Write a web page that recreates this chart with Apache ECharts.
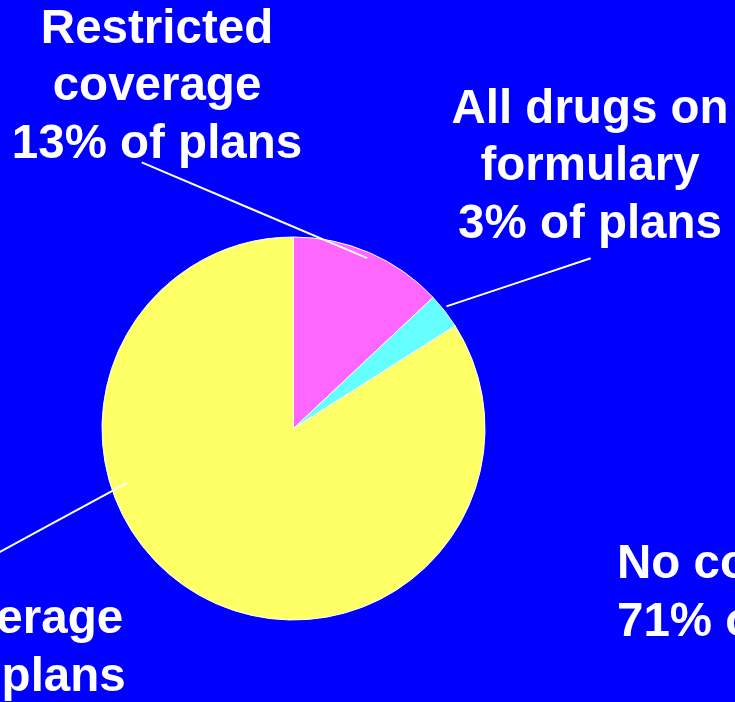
<!DOCTYPE html>
<html><head><meta charset="utf-8">
<script src="https://cdn.jsdelivr.net/npm/echarts@6/dist/echarts.min.js"></script>
<style>html,body{margin:0;padding:0;background:#0000FF;overflow:hidden}#c{width:735px;height:702px;}</style>
</head><body><div id="c"></div>
<script>
// ---- data ----
const categories = ['Restricted coverage', 'All drugs on formulary', 'No coverage'];
const labelNames = ['Restricted\ncoverage', 'All drugs on\nformulary', 'No coverage'];
const shares = [13, 3, 84];
const sliceColors = ['#FF66FF', '#66FFFF', '#FFFF66'];
const offChartLabel = ['No coverage', '71% of plans'];

// ---- layout ----
const CX = 293.5, CY = 428.5, R = 191.5;
const FONT = 'Liberation Sans, Arial, Helvetica, sans-serif';
const labelCenters = [[157, 87], [590, 167], [-19.5, 649]];
const leaderStart = [[23.4, 185.6], [51.4, 195.7], [251.9, 175]];
const leaderEnd = [[141.7, 162.3], [590.7, 258.3], [-40, 573.6]];

function polar(a, d) {
  const r = a * Math.PI / 180;
  return [CX + d * Math.sin(r), CY - d * Math.cos(r)];
}

const baseData = categories.map((c, i) => ({name: c, value: shares[i]}));

const chart = echarts.init(document.getElementById('c'), null, {renderer: 'canvas'});
chart.setOption({
  backgroundColor: '#0000FF',
  animation: false,
  series: [{
    type: 'pie',
    z: 2,
    center: [CX, CY],
    radius: R,
    startAngle: 90,
    clockwise: true,
    silent: true,
    itemStyle: {borderColor: '#FFFFFF', borderWidth: 1},
    emphasis: {disabled: true},
    label: {show: false},
    labelLine: {show: false},
    data: baseData.map((d, i) => Object.assign({}, d, {itemStyle: {color: sliceColors[i]}}))
  }, {
    type: 'pie',
    z: 5,
    center: [CX, CY],
    radius: R,
    startAngle: 90,
    clockwise: true,
    silent: true,
    avoidLabelOverlap: false,
    itemStyle: {color: 'rgba(0,0,0,0)', borderWidth: 0},
    emphasis: {disabled: true},
    data: baseData,
    label: {
      show: true,
      color: '#FFFFFF',
      fontFamily: FONT,
      fontWeight: 'bold',
      fontSize: 47.5,
      lineHeight: 57.5,
      align: 'center',
      formatter: p => labelNames[p.dataIndex] + '\n' + shares[p.dataIndex] + '% of plans'
    },
    labelLine: {show: true, showAbove: true, smooth: false, length: 10, length2: 10,
      lineStyle: {color: '#FFFFFF', width: 2}},
    labelLayout: function (params) {
      const i = params.dataIndex;
      const s = polar(leaderStart[i][0], leaderStart[i][1]);
      const e = leaderEnd[i];
      const m = [(s[0] + e[0]) / 2, (s[1] + e[1]) / 2];
      return {
        x: labelCenters[i][0],
        y: labelCenters[i][1],
        align: 'center',
        verticalAlign: 'middle',
        labelLinePoints: [s, m, e]
      };
    }
  }],
  graphic: [{
    type: 'text',
    left: 767 - 150,
    top: 594 - 57.5,
    style: {
      text: offChartLabel.join('\n'),
      fill: '#FFFFFF',
      font: 'bold 47.5px ' + FONT,
      lineHeight: 57.5,
      align: 'center',
      width: 300
    }
  }]
});
</script>
</body></html>
